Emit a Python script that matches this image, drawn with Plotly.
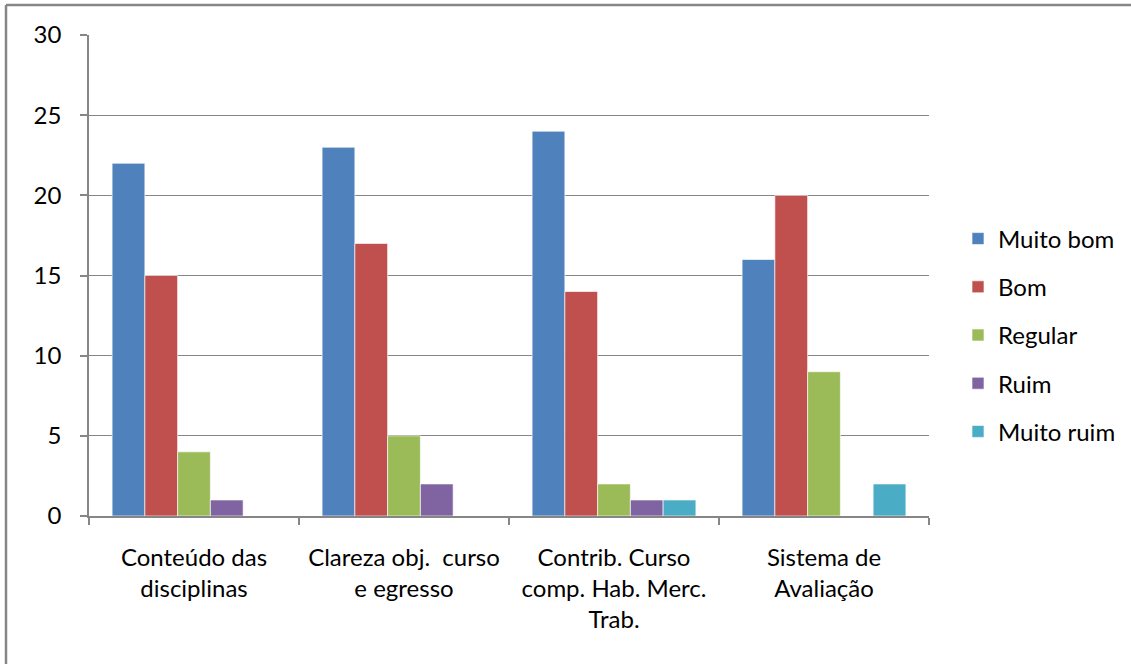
import plotly.graph_objects as go

categories = ["Conteúdo das<br>disciplinas", "Clareza obj.  curso<br>e egresso",
              "Contrib. Curso<br>comp. Hab. Merc.<br>Trab.", "Sistema de<br>Avaliação"]
series_names = ["Muito bom", "Bom", "Regular", "Ruim", "Muito ruim"]
muito_bom = [22, 23, 24, 16]
bom = [15, 17, 14, 20]
regular = [4, 5, 2, 9]
ruim = [1, 2, 1, 0]
muito_ruim = [0, 0, 1, 2]
colors = ["#4F81BD", "#C0504D", "#9BBB59", "#8064A2", "#4BACC6"]
y_ticks = [0, 5, 10, 15, 20, 25, 30]

FONT = "Lato"
FS = 24
fig = go.Figure()
for i, (name, vals) in enumerate(zip(series_names, [muito_bom, bom, regular, ruim, muito_ruim])):
    fig.add_trace(go.Bar(
        x=categories, y=vals, name=name, legendgroup=name,
        marker=dict(color=colors[i], line=dict(color="rgba(255,255,255,0.8)", width=0.8)),
    ))

W, H = 1131, 664
L, R, T, B = 89, 202, 35, 148
pw = W - L - R
ph = H - T - B

fig.update_layout(
    width=W, height=H,
    margin=dict(l=L, r=R, t=T, b=B, pad=0, autoexpand=False),
    paper_bgcolor="white", plot_bgcolor="white",
    font=dict(family=FONT, size=FS, color="black"),
    barmode="group", bargap=0.22, bargroupgap=0,
    showlegend=True,
    legend=dict(xref="container", yref="container",
                x=958 / W, xanchor="left", y=1 - 335 / H, yanchor="middle",
                font=dict(family=FONT, size=FS, color="black"),
                tracegroupgap=14, itemwidth=30, bgcolor="rgba(0,0,0,0)"),
    xaxis=dict(type="category", automargin=False, showline=True, linecolor="#868686", linewidth=1.5,
               ticks="outside", tickson="boundaries", ticklen=7, tickcolor="#868686",
               tickwidth=1.5, showgrid=False, ticklabelstandoff=19,
               tickfont=dict(family=FONT, size=FS, color="black")),
    yaxis=dict(range=[0, 30], automargin=False, tickvals=y_ticks, showline=True, linecolor="#868686",
               linewidth=1.5, ticks="outside", ticklen=7, tickcolor="#868686", tickwidth=1.5,
               showgrid=True, gridcolor="#868686", gridwidth=1.2, zeroline=False,
               ticklabelstandoff=14,
               tickfont=dict(family=FONT, size=FS, color="black")),
    shapes=[
        dict(type="line", xref="paper", yref="paper",
             x0=(6 - L) / pw, x1=(1135 - L) / pw, y0=(H - B - 5) / ph, y1=(H - B - 5) / ph,
             line=dict(color="#868686", width=2.5)),
        dict(type="line", xref="paper", yref="paper",
             x0=(6 - L) / pw, x1=(6 - L) / pw, y0=(H - B - 5) / ph, y1=(H - B - 670) / ph,
             line=dict(color="#868686", width=2.5)),
    ],
)

fig.write_html("out.html", config={"displayModeBar": False},
               post_script="document.body.style.margin='0';document.body.style.overflow='hidden';")
